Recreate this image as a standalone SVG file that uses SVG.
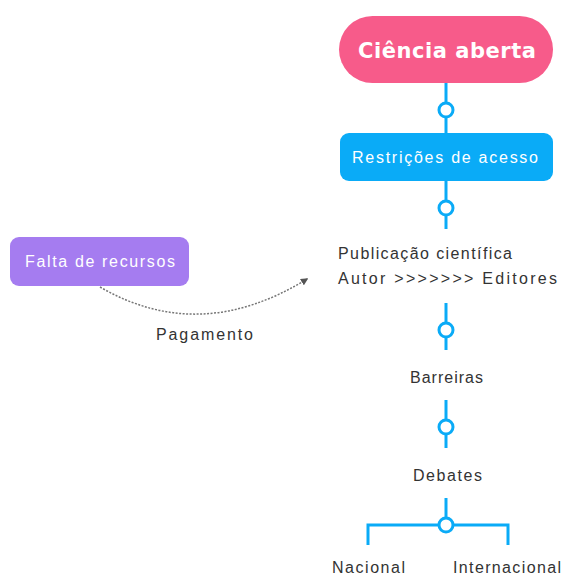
<svg xmlns="http://www.w3.org/2000/svg" width="564" height="578" viewBox="0 0 564 578">
<style>
.t{font-family:"Liberation Sans",Arial,sans-serif;font-size:16px;fill:#333;}
.h{font-family:"DejaVu Sans","Liberation Sans",sans-serif;font-size:21px;font-weight:bold;fill:#fff;}
.w{fill:#fff;}
.c{fill:none;stroke:#0AABF7;stroke-width:3;}
.dot{fill:#fff;stroke:#0AABF7;stroke-width:3;}
</style>
<defs>
<marker id="arr" viewBox="0 0 10 10" refX="8" refY="5" markerWidth="5" markerHeight="5" orient="auto">
<path d="M0,0 L10,5 L0,10 Z" fill="#555"/>
</marker>
</defs>
<rect width="564" height="578" fill="#fff"/>
<g id="connectors">
<line class="c" x1="446" y1="83" x2="446" y2="133"/>
<circle class="dot" cx="446" cy="110" r="7"/>
<line class="c" x1="446" y1="181" x2="446" y2="229"/>
<circle class="dot" cx="446" cy="208" r="7"/>
<line class="c" x1="446" y1="303" x2="446" y2="350"/>
<circle class="dot" cx="446" cy="330" r="7"/>
<line class="c" x1="446" y1="400" x2="446" y2="448"/>
<circle class="dot" cx="446" cy="427" r="7"/>
<line class="c" x1="446" y1="498" x2="446" y2="525"/>
<polyline class="c" points="368,545 368,525 508,525 508,545"/>
<circle class="dot" cx="446" cy="525" r="7"/>
<path d="M100,287 Q200,345 307,279" fill="none" stroke="#777" stroke-width="1.5" stroke-dasharray="2,1.5" marker-end="url(#arr)"/>
<text class="t" x="156" y="340" textLength="97" lengthAdjust="spacing">Pagamento</text>
</g>
<g id="ciencia">
<rect x="339" y="16" width="214" height="67" rx="33.5" fill="#F75B8A"/>
<text class="h" x="358" y="58" textLength="178" lengthAdjust="spacing">Ciência aberta</text>
</g>
<g id="restricoes">
<rect x="340" y="133" width="213" height="48" rx="9" fill="#0AABF7"/>
<text class="t w" x="352" y="163" textLength="186" lengthAdjust="spacing">Restrições de acesso</text>
</g>
<g id="publicacao">
<text class="t" x="338" y="259" textLength="174" lengthAdjust="spacing">Publicação científica</text>
<text class="t" x="338" y="284" textLength="219" lengthAdjust="spacing">Autor &gt;&gt;&gt;&gt;&gt;&gt;&gt; Editores</text>
</g>
<g id="barreiras"><text class="t" x="410" y="383" textLength="73" lengthAdjust="spacing">Barreiras</text></g>
<g id="debates"><text class="t" x="413" y="481" textLength="69" lengthAdjust="spacing">Debates</text></g>
<g id="nacional"><text class="t" x="332" y="573" textLength="73" lengthAdjust="spacing">Nacional</text></g>
<g id="internacional"><text class="t" x="453" y="573" textLength="108" lengthAdjust="spacing">Internacional</text></g>
<g id="falta">
<rect x="10" y="237" width="179" height="49" rx="9" fill="#A57CF0"/>
<text class="t w" x="25" y="267" textLength="150" lengthAdjust="spacing">Falta de recursos</text>
</g>
</svg>
